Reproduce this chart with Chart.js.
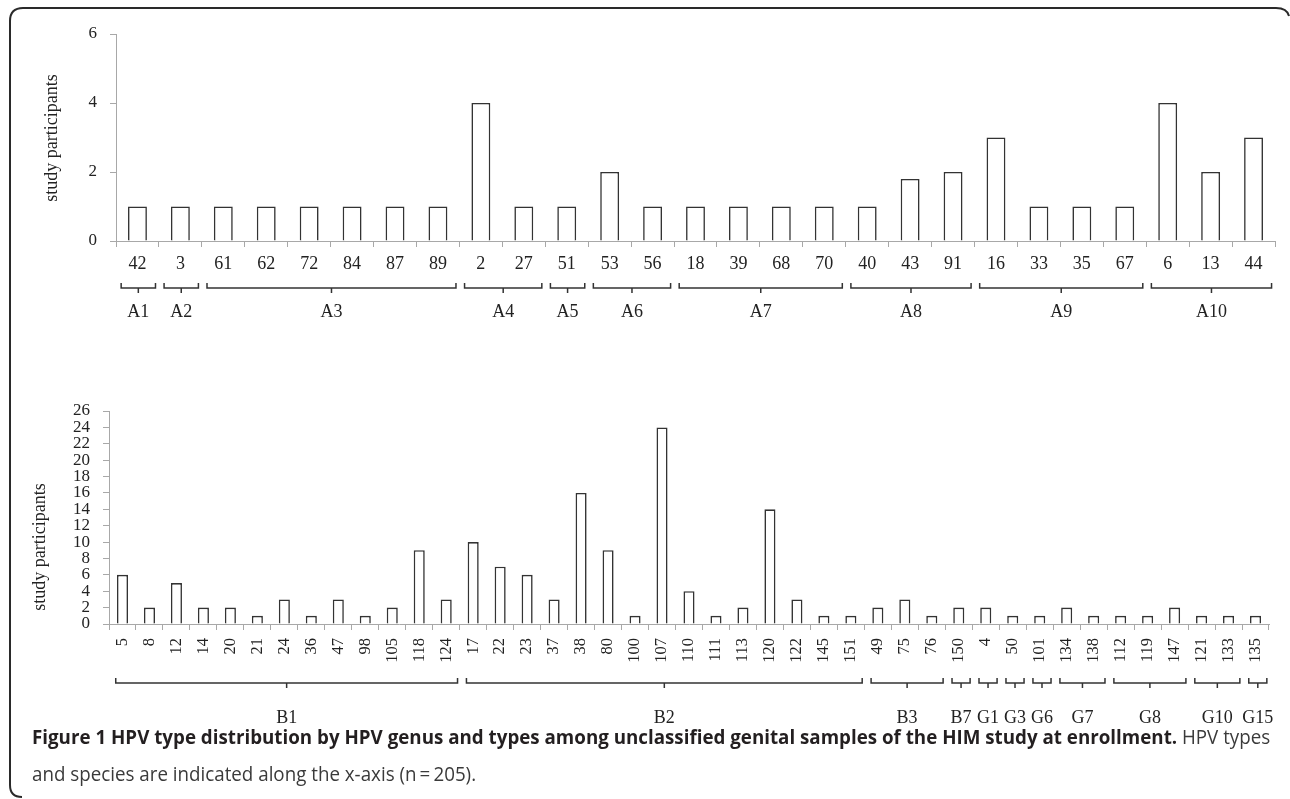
<!DOCTYPE html>
<html>
<head>
<meta charset="utf-8">
<script src="https://cdn.jsdelivr.net/npm/chart.js@4.4.1/dist/chart.umd.min.js"></script>
<style>
html,body{margin:0;padding:0;background:#fff;}
body{width:1290px;height:799px;position:relative;overflow:hidden;}
canvas{position:absolute;left:0;}
#c1{top:0;}
#c2{top:340px;}
#frame{position:absolute;left:0;top:0;}
.cap{position:absolute;left:32px;white-space:nowrap;font-family:"Open Sans",sans-serif;font-size:19.5px;line-height:24px;color:#3a3a3a;transform-origin:0 50%;}
.cap b{color:#231f20;font-weight:700;}
</style>
</head>
<body>
<canvas id="c1" width="1290" height="340"></canvas>
<canvas id="c2" width="1290" height="395"></canvas>
<svg id="frame" width="1290" height="799"><path d="M 22 797 Q 10 797 10 785 L 10 21 Q 10 8 23 8 L 1276 8 Q 1287 8 1289 16" fill="none" stroke="#2a2a2a" stroke-width="2"/></svg>
<div id="cap1" class="cap" style="top:725px"><b>Figure 1 HPV type distribution by HPV genus and types among unclassified genital samples of the HIM study at enrollment.</b> HPV types</div>
<div id="cap2" class="cap" style="top:762px">and species are indicated along the x-axis (n&#8201;=&#8201;205).</div>
<script>
// ---- data ----
const topTypes = ['42','3','61','62','72','84','87','89','2','27','51','53','56','18','39','68','70','40','43','91','16','33','35','67','6','13','44'];
const topCounts = [1,1,1,1,1,1,1,1,4,1,1,2,1,1,1,1,1,1,1.8,2,3,1,1,1,4,2,3];
const topTickMax = 6;
const topTickStep = 2;
const topSpecies = ['A1','A2','A3','A4','A5','A6','A7','A8','A9','A10'];
const topSpeciesSize = [1,1,6,2,1,2,4,3,4,3];

const bottomTypes = ['5','8','12','14','20','21','24','36','47','98','105','118','124',
  '17','22','23','37','38','80','100','107','110','111','113','120','122','145','151',
  '49','75','76','150','4','50','101','134','138','112','119','147','121','133','135'];
const bottomCounts = [6,2,5,2,2,1,3,1,3,1,2,9,3,
  10,7,6,3,16,9,1,24,4,1,2,14,3,1,1,
  2,3,1,2,2,1,1,2,1,1,1,2,1,1,1];
const bottomTickMax = 26;
const bottomTickStep = 2;
const bottomSpecies = ['B1','B2','B3','B7','G1','G3','G6','G7','G8','G10','G15'];
const bottomSpeciesSize = [13,15,3,1,1,1,1,2,3,2,1];

const yTitle = 'study participants';

// ---- plugins ----
const SERIF = '"Liberation Serif","Times New Roman",serif';
const bracePlugin = {
  id: 'braces',
  afterDraw(chart, args, o) {
    const {ctx, chartArea, scales} = chart;
    const x = scales.x;
    const yb = chartArea.bottom + o.lineOff;
    ctx.save();
    ctx.strokeStyle = '#333';
    ctx.lineWidth = 1.5;
    ctx.fillStyle = '#222';
    ctx.font = o.fontSize + 'px ' + SERIF;
    ctx.textAlign = 'center';
    ctx.textBaseline = 'middle';
    let idx = 0;
    o.names.forEach((name, i) => {
      const n = o.sizes[i];
      const x0 = x.getPixelForValue(idx - 0.5 + o.inL);
      const x1 = x.getPixelForValue(idx + n - 0.5 - o.inR);
      const xc = (x0 + x1) / 2;
      ctx.beginPath();
      ctx.moveTo(x0, yb - 5);
      ctx.lineTo(x0, yb);
      ctx.lineTo(x1, yb);
      ctx.lineTo(x1, yb - 5);
      ctx.moveTo(xc, yb);
      ctx.lineTo(xc, yb + 5);
      ctx.stroke();
      ctx.fillText(name, xc, chartArea.bottom + o.labelOff);
      idx += n;
    });
    // y title
    ctx.font = o.titleSize + 'px ' + SERIF;
    ctx.translate(o.titleX, o.titleY);
    ctx.rotate(-Math.PI / 2);
    ctx.fillText(yTitle, 0, 0);
    ctx.restore();
  }
};

function makeChart(id, labels, values, cfg) {
  return new Chart(document.getElementById(id), {
    type: 'bar',
    data: {
      labels: labels,
      datasets: [{
        data: values,
        backgroundColor: '#ffffff',
        borderColor: '#333333',
        borderWidth: 1.6,
        barPercentage: cfg.barPct,
        categoryPercentage: 1
      }]
    },
    options: {
      responsive: false,
      animation: false,
      devicePixelRatio: 1,
      layout: { padding: { top: cfg.padTop, right: cfg.padRight, left: 0, bottom: 0 } },
      plugins: {
        legend: { display: false },
        tooltip: { enabled: false },
        braces: cfg.braces
      },
      scales: {
        x: {
          grid: { drawOnChartArea: false, tickLength: 6, color: '#a8a8a8', offset: true },
          border: { color: '#a8a8a8', width: 1 },
          ticks: {
            autoSkip: false,
            minRotation: cfg.rot, maxRotation: cfg.rot,
            padding: cfg.xPad,
            color: '#222',
            font: { family: SERIF, size: cfg.xFont }
          },
          afterFit: s => { s.height = cfg.xHeight; }
        },
        y: {
          min: 0, max: cfg.yMax,
          grid: { drawOnChartArea: false, tickLength: 6, color: '#a8a8a8' },
          border: { color: '#a8a8a8', width: 1 },
          ticks: {
            stepSize: cfg.yStep,
            autoSkip: false,
            padding: cfg.yPad,
            color: '#222',
            font: { family: SERIF, size: cfg.yFont, lineHeight: 1 }
          },
          afterFit: s => { s.width = cfg.yWidth; }
        }
      }
    },
    plugins: [bracePlugin]
  });
}

makeChart('c1', topTypes, topCounts, {
  barPct: 0.44, padTop: 34, padRight: 15, rot: 0, xPad: 6, xFont: 18, xHeight: 99,
  yMax: topTickMax, yStep: topTickStep, yPad: 13, yFont: 17, yWidth: 116,
  braces: { names: topSpecies, sizes: topSpeciesSize, inL: 0.12, inR: 0.08,
            lineOff: 47, labelOff: 71, fontSize: 18, titleSize: 18, titleX: 52, titleY: 138 }
});

makeChart('c2', bottomTypes, bottomCounts, {
  barPct: 0.41, padTop: 71, padRight: 21, rot: 90, xPad: 8, xFont: 16.5, xHeight: 111,
  yMax: bottomTickMax, yStep: bottomTickStep, yPad: 13, yFont: 17, yWidth: 109,
  braces: { names: bottomSpecies, sizes: bottomSpeciesSize, inL: 0.25, inR: 0.08,
            lineOff: 59, labelOff: 94, fontSize: 18, titleSize: 18, titleX: 40, titleY: 207 }
});

// fit caption width
function fitCaption() {
  const c1 = document.getElementById('cap1');
  const c2 = document.getElementById('cap2');
  const w = c1.offsetWidth;
  const s = 1238 / w;
  c1.style.transform = 'scaleX(' + s + ')';
  c2.style.transform = 'scaleX(' + s + ')';
}
fitCaption();
if (document.fonts && document.fonts.ready) document.fonts.ready.then(fitCaption);
</script>
</body>
</html>
